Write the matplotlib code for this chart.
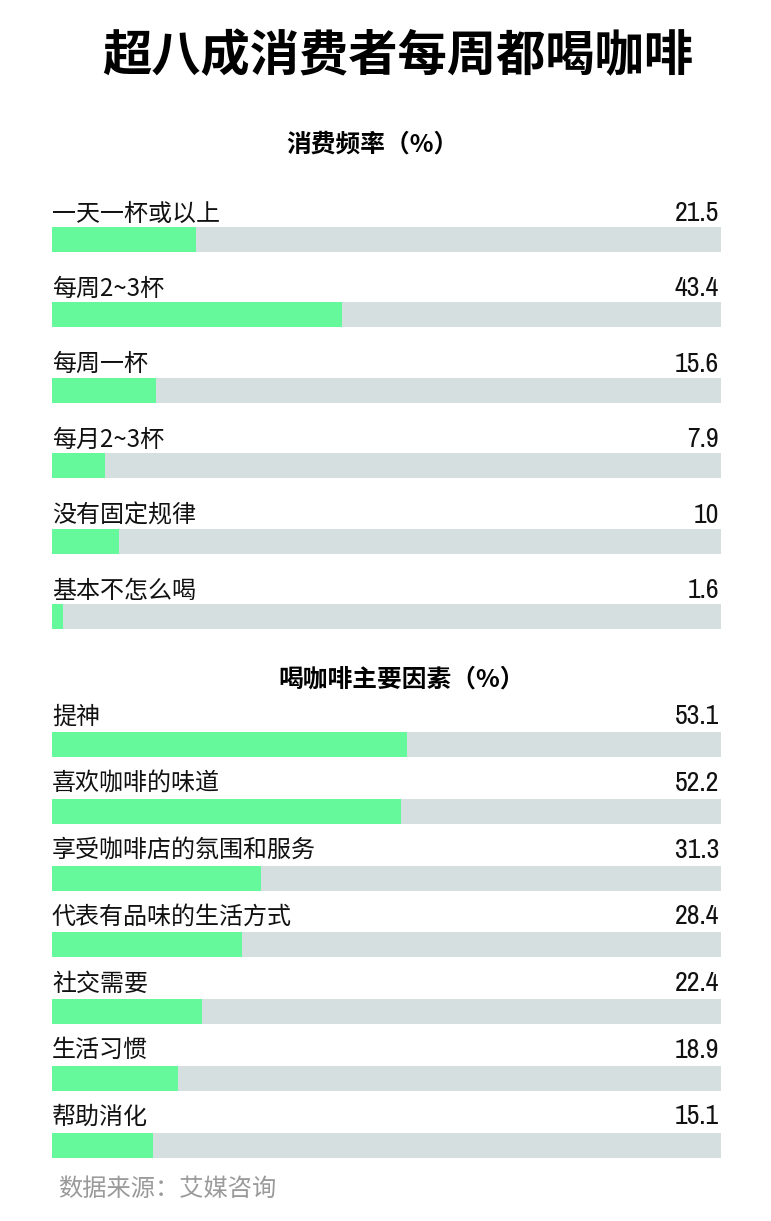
import matplotlib
matplotlib.use("Agg")
import matplotlib.pyplot as plt
from matplotlib import font_manager
from matplotlib.font_manager import FontProperties

# ---- data ----
title = "超八成消费者每周都喝咖啡"
freq_title = "消费频率（%）"
freq_labels = ["一天一杯或以上", "每周2~3杯", "每周一杯", "每月2~3杯", "没有固定规律", "基本不怎么喝"]
freq_values = [21.5, 43.4, 15.6, 7.9, 10, 1.6]
freq_texts = ["21.5", "43.4", "15.6", "7.9", "10", "1.6"]

reason_title = "喝咖啡主要因素（%）"
reason_labels = ["提神", "喜欢咖啡的味道", "享受咖啡店的氛围和服务", "代表有品味的生活方式",
                 "社交需要", "生活习惯", "帮助消化"]
reason_values = [53.1, 52.2, 31.3, 28.4, 22.4, 18.9, 15.1]
reason_texts = ["53.1", "52.2", "31.3", "28.4", "22.4", "18.9", "15.1"]

source = "数据来源：艾媒咨询"

# ---- style ----
GREEN = "#66F99C"
TRACK = "#D6DFDF"
W, H = 771, 1221

fl = font_manager.fontManager.ttflist
cjk = [f for f in fl if f.name.startswith("Noto Sans CJK SC")]
names = {f.name for f in fl}


def wnum(f):
    w = f.weight
    if isinstance(w, str):
        return {"thin": 100, "light": 300, "normal": 400, "regular": 400, "medium": 500,
                "bold": 700, "heavy": 800, "black": 900}.get(w, 400)
    return w


if cjk:
    light_f = min(cjk, key=wnum)
    heavy_f = max(cjk, key=wnum)
    LIGHT = dict(fontproperties=FontProperties(fname=light_f.fname))
    HEAVY = dict(fontproperties=FontProperties(fname=heavy_f.fname))
    if wnum(heavy_f) < 800:
        HEAVY = dict(family=["Noto Sans CJK SC", "DejaVu Sans"], weight="black")
else:
    LIGHT = dict(family=["Noto Sans CJK SC", "DejaVu Sans"], weight="light")
    HEAVY = dict(family=["Noto Sans CJK SC", "DejaVu Sans"], weight="black")

cond = sorted(n for n in names if "Condensed" in n or "Narrow" in n)
NUM = [cond[0]] if cond else ["Liberation Sans"]

fig = plt.figure(figsize=(W / 100, H / 100), dpi=100)
fig.patch.set_facecolor("white")


def px_axes(left, top, right, bottom):
    return fig.add_axes([left / W, 1 - bottom / H, (right - left) / W, (bottom - top) / H])


def with_size(d, size):
    d = dict(d)
    if "fontproperties" in d:
        fp = d["fontproperties"].copy()
        fp.set_size(size)
        d["fontproperties"] = fp
    else:
        d["fontsize"] = size
    return d


def section(labels, values, texts, first_c, step, label_off_px):
    n = len(labels)
    top = first_c - 0.75 * step
    bottom = first_c + (n - 0.5) * step
    ax = px_axes(52, top, 721, bottom)
    ax.set_xlim(0, 100)
    ax.set_ylim(n - 0.5, -0.75)
    ax.axis("off")
    ys = list(range(n))
    h = 25 / step
    ax.barh(ys, [100] * n, height=h, color=TRACK, zorder=1)
    ax.barh(ys, values, height=h, color=GREEN, zorder=2)
    off = label_off_px / step
    for y, lab, t in zip(ys, labels, texts):
        ax.text(0, y - off, lab, ha="left", va="center", color="#111111", **with_size(LIGHT, 17.3))
        ax.text(99.7, y - off, t, family=NUM, fontsize=20,
                ha="right", va="center", color="#111111")
    return ax


section(freq_labels, freq_values, freq_texts, 239.5, 75.4, 26)
section(reason_labels, reason_values, reason_texts, 744.5, 66.75, 28)

fig.text(398 / W, 1 - 57 / H, title, ha="center", va="center", color="black",
         **with_size(HEAVY, 35.5))
fig.text(372 / W, 1 - 145 / H, freq_title, ha="center", va="center", color="black",
         **with_size(HEAVY, 17.8))
fig.text(402 / W, 1 - 680 / H, reason_title, ha="center", va="center", color="black",
         **with_size(HEAVY, 17.8))
fig.text(58 / W, 1 - 1189 / H, source, ha="left", va="center", color="#9A9A9A",
         **with_size(LIGHT, 17.5))

fig.savefig("out.png", dpi=100, facecolor="white")
